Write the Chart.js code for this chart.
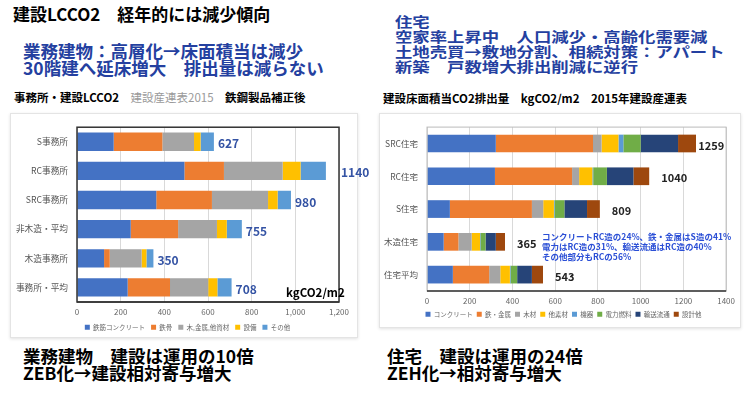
<!DOCTYPE html>
<html>
<head>
<meta charset="utf-8">
<script src="https://cdn.jsdelivr.net/npm/chart.js@4"></script>
<style>
  body { margin: 0; width: 750px; height: 394px; background: #fff; position: relative; overflow: hidden;
         font-family: "Noto Sans CJK JP", "Noto Sans", sans-serif; }
  .t { position: absolute; white-space: nowrap; font-weight: bold; }
  .blue { color: #2440a0; }
  .panel { position: absolute; background: #fff; border: 1px solid #e4e4e4; box-shadow: 0 1px 3px rgba(0,0,0,0.12); }
  canvas { position: absolute; }
</style>
</head>
<body>
<div class="t" style="left:13px;top:4px;font-size:17px;line-height:19px;">建設LCCO2　経年的には減少傾向</div>
<div class="t blue" style="left:23px;top:42px;font-size:17.5px;line-height:17px;">業務建物：高層化→床面積当は減少<br>30階建へ延床増大　排出量は減らない</div>
<div class="t" style="left:14px;top:91px;font-size:11.5px;line-height:13px;">事務所・建設LCCO2　<span style="color:#9a9a9a;font-weight:normal;">建設産連表2015</span>　鉄鋼製品補正後</div>

<div class="t blue" style="left:395px;top:14px;font-size:14px;line-height:15px;transform:scaleX(1.24);transform-origin:left top;">住宅<br>空家率上昇中　人口減少・高齢化需要減<br>土地売買→敷地分割、相続対策：アパート<br>新築　戸数増大排出削減に逆行</div>
<div class="t" style="left:383px;top:92px;font-size:11.5px;line-height:13px;">建設床面積当CO2排出量　kgCO2/m2　2015年建設産連表</div>

<div class="panel" style="left:10px;top:113px;width:346px;height:223px;"></div>
<div class="panel" style="left:379px;top:113px;width:360px;height:213px;"></div>
<canvas id="officeChart" style="left:10px;top:113px;" width="360" height="224"></canvas>
<canvas id="houseChart" style="left:379px;top:113px;" width="361" height="214"></canvas>

<div class="t" style="left:286px;top:286px;font-size:11.5px;line-height:13px;">kgCO2/m2</div>
<div class="t" style="left:542px;top:231px;font-size:8.5px;line-height:10px;color:#2b4fd6;">コンクリートRC造の24%、鉄・金属はS造の41%<br>電力はRC造の31%、輸送流通はRC造の40%<br>その他部分もRCの56%</div>

<div class="t" style="left:23px;top:347px;font-size:17.5px;line-height:17px;">業務建物　建設は運用の10倍<br>ZEB化→建設相対寄与増大</div>
<div class="t" style="left:387px;top:347px;font-size:17.5px;line-height:17px;">住宅　建設は運用の24倍<br>ZEH化→相対寄与増大</div>

<script>
// 事務所（左）
const officeCats = ['S事務所', 'RC事務所', 'SRC事務所', '非木造・平均', '木造事務所', '事務所・平均'];
const officeSeries = ['鉄筋コンクリート', '鉄骨', '木,金属,他資材', '設備', 'その他'];
const officeConcrete = [168, 492, 363, 246, 124, 232];
const officeSteel = [223, 181, 255, 217, 26, 194];
const officeMaterial = [145, 269, 257, 178, 146, 175];
const officeEquip = [30, 82, 44, 45, 22, 42];
const officeOther = [61, 116, 61, 69, 32, 65];

// 住宅（右）
const houseCats = ['SRC住宅', 'RC住宅', 'S住宅', '木造住宅', '住宅平均'];
const houseSeries = ['コンクリート', '鉄・金属', '木材', '他素材', '機器', '電力燃料', '輸送流通', '設計他'];
const houseConcrete = [322, 318, 107, 78, 121];
const houseMetal = [455, 361, 384, 69, 170];
const houseWood = [40, 33, 53, 62, 52];
const houseOtherMat = [79, 62, 50, 39, 45];
const houseEquip = [23, 4, 3, 2, 3];
const housePower = [81, 64, 46, 24, 31];
const houseTransport = [175, 124, 106, 48, 69];
const houseDesign = [84, 74, 60, 43, 52];

const officeColors = ['#4472C4', '#ED7D31', '#A5A5A5', '#FFC000', '#5B9BD5'];
const houseColors = ['#4472C4', '#ED7D31', '#A5A5A5', '#FFC000', '#5B9BD5', '#70AD47', '#264478', '#9E480E'];

const FONT = '"Noto Sans CJK JP", "Noto Sans", sans-serif';

// 合計値ラベル
const totalLabels = {
  id: 'totalLabels',
  afterDraw(chart, args, opts) {
    const ctx = chart.ctx;
    const xs = chart.scales.x, ys = chart.scales.y, a = chart.chartArea;
    ctx.save();
    ctx.font = 'bold ' + opts.size + 'px ' + FONT;
    ctx.fillStyle = opts.color;
    ctx.textBaseline = 'middle';
    chart.data.labels.forEach((lab, i) => {
      let sum = 0;
      chart.data.datasets.forEach(ds => sum += ds.data[i]);
      const txt = String(sum);
      const w = ctx.measureText(txt).width;
      let x = xs.getPixelForValue(sum) + opts.offset;
      // 枠にかかる場合
      if (x + w > a.right - 2) x = opts.outside ? a.right + 2 : a.right - w - 2;
      ctx.fillText(txt, x, ys.getPixelForValue(i) + 2);
    });
    ctx.restore();
  }
};

// 枠線
const frame = {
  id: 'frame',
  afterDatasetsDraw(chart, args, opts) {
    const a = chart.chartArea, ctx = chart.ctx;
    ctx.save();
    ctx.strokeStyle = opts.color;
    ctx.lineWidth = opts.width;
    ctx.strokeRect(a.left, a.top, a.right - a.left, a.bottom - a.top);
    ctx.strokeStyle = '#333';
    ctx.lineWidth = 1.5;
    ctx.beginPath();
    ctx.moveTo(a.left, a.bottom);
    ctx.lineTo(a.right, a.bottom);
    ctx.stroke();
    ctx.restore();
  }
};

// 凡例を少し右へ
const legendShift = {
  id: 'legendShift',
  afterLayout(chart, args, opts) {
    chart.legend.left += opts.dx;
    chart.legend.right += opts.dx;
  }
};

function makeDatasets(names, arrays, colors, pct) {
  return names.map((n, k) => ({
    label: n,
    data: arrays[k],
    backgroundColor: colors[k],
    barPercentage: pct,
    categoryPercentage: 1
  }));
}

function makeOptions(cfg) {
  return {
    indexAxis: 'y',
    responsive: false,
    animation: false,
    layout: { padding: cfg.padding },
    plugins: {
      legend: {
        position: 'bottom',
        maxHeight: cfg.legendH,
        labels: {
          boxWidth: 5, boxHeight: 5, padding: cfg.legendPad,
          font: { size: 6.5, family: FONT }, color: '#666'
        }
      },
      tooltip: { enabled: false },
      totalLabels: cfg.labels,
      frame: cfg.frame,
      legendShift: { dx: cfg.legendDx }
    },
    scales: {
      x: {
        stacked: true, min: 0, max: cfg.max,
        ticks: { stepSize: 200, font: { size: 8, family: FONT }, color: '#666', padding: 5,
                 callback: cfg.tickFmt },
        grid: { color: '#d9d9d9', drawTicks: false },
        border: { display: false },
        afterFit: s => { s.height = cfg.xh; }
      },
      y: {
        stacked: true,
        ticks: { font: { size: cfg.ySize, family: FONT }, color: '#555', padding: 9 },
        grid: { display: false, drawTicks: false },
        border: { display: false },
        afterFit: s => { s.width = cfg.yw; }
      }
    }
  };
}

new Chart(document.getElementById('officeChart'), {
  type: 'bar',
  data: {
    labels: officeCats,
    datasets: makeDatasets(officeSeries,
      [officeConcrete, officeSteel, officeMaterial, officeEquip, officeOther], officeColors, 0.63)
  },
  options: makeOptions({
    max: 1200, padding: { top: 7, right: 31, left: 0, bottom: 0 }, legendPad: 6, legendH: 19, legendDx: 13,
    xh: 16, yw: 67, ySize: 8.7,
    tickFmt: v => v.toLocaleString('en-US'),
    labels: { size: 12, color: '#3453a4', offset: 4, outside: true },
    frame: { color: '#333', width: 1.5 }
  }),
  plugins: [totalLabels, frame, legendShift]
});

new Chart(document.getElementById('houseChart'), {
  type: 'bar',
  data: {
    labels: houseCats,
    datasets: makeDatasets(houseSeries,
      [houseConcrete, houseMetal, houseWood, houseOtherMat, houseEquip, housePower, houseTransport, houseDesign],
      houseColors, 0.54)
  },
  options: makeOptions({
    max: 1400, padding: { top: 7, right: 12, left: 0, bottom: 0 }, legendPad: 4, legendH: 20, legendDx: 10,
    xh: 16, yw: 48, ySize: 8.5,
    tickFmt: v => String(v),
    labels: { size: 11, color: '#222', offset: 12, outside: false },
    frame: { color: '#bbb', width: 1 }
  }),
  plugins: [totalLabels, frame, legendShift]
});
</script>
</body>
</html>
